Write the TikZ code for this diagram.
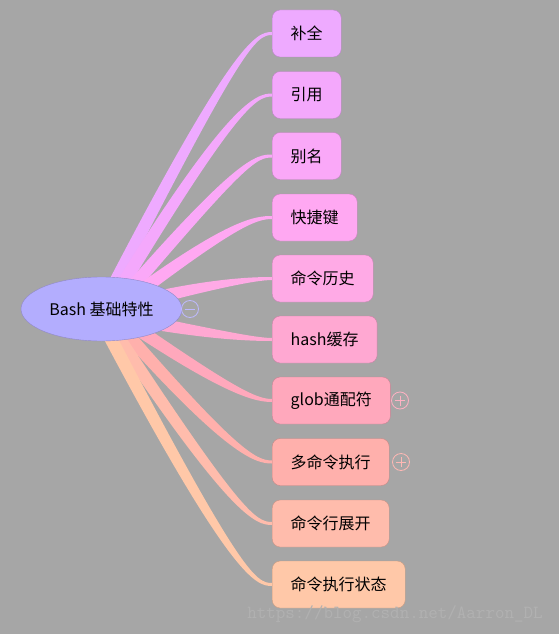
\documentclass[tikz,border=0pt]{standalone}
\usepackage{fontspec}
\setmainfont{Noto Sans CJK SC}
\usetikzlibrary{shapes.geometric, positioning, calc, backgrounds}

\definecolor{bg}{HTML}{A6A6A6}
\definecolor{rootfill}{HTML}{B3ADFE}
\definecolor{rootline}{HTML}{9088C8}
\definecolor{c1}{HTML}{EEAAFF}
\definecolor{c2}{HTML}{F4A8FC}
\definecolor{c3}{HTML}{FAA8F8}
\definecolor{c4}{HTML}{FFA8F2}
\definecolor{c5}{HTML}{FFAAE6}
\definecolor{c6}{HTML}{FFA8D2}
\definecolor{c7}{HTML}{FFA8BC}
\definecolor{c8}{HTML}{FFB0AC}
\definecolor{c9}{HTML}{FFBCAC}
\definecolor{c10}{HTML}{FFC8A8}

% tapered branch: start offset from root, knee, target node, colour
\newcommand{\branch}[4]{%
  \coordinate (s) at ($(root)+#1$);
  \coordinate (k) at #2;
  \coordinate (e) at (#3.west);
  \coordinate (c) at ($(e)+(-16,0)$);
  \fill[#4] ($(s)!6.5pt!90:(k)$) .. controls ($(k)!5.5pt!-90:(s)$) and ($(c)+(0,-1.5)$) .. ($(e)+(0,-1.5)$)
    -- ($(e)+(0,1.5)$) .. controls ($(c)+(0,1.5)$) and ($(k)!5.5pt!90:(s)$) .. ($(s)!6.5pt!-90:(k)$) -- cycle;
}

\begin{document}
\begin{tikzpicture}[
    x=1pt, y=-1pt,
    leaf/.style={draw=#1!78!black, fill=#1, rounded corners=8pt, anchor=west,
      minimum height=47pt, inner xsep=18.5pt, font=\fontsize{16pt}{19pt}\selectfont},
    fold/.style={draw=#1, circle, minimum size=17pt, inner sep=0pt, line width=0.8pt}
]
    \useasboundingbox (0,0) rectangle (559,634);
    \begin{scope}[on background layer]
        \fill[bg] (0,0) rectangle (559,634);
    \end{scope}

    % Root
    \node[ellipse, draw=rootline, fill=rootfill, minimum width=161pt, minimum height=64pt,
      inner sep=0pt, font=\fontsize{16pt}{19pt}\selectfont] (root) at (101.5,309) {Bash 基础特性};
    \node[fold=rootfill!85!white] (rootfold) at (190,309) {};
    \draw[rootfill!85!white, line width=0.8pt] ($(rootfold.center)+(-5,0)$) -- ($(rootfold.center)+(5,0)$);

    % Leaves
    \node[leaf=c1] (complete) at (272,33.5) {补全};
    \node[leaf=c2] (quote) at (272,95) {引用};
    \node[leaf=c3] (alias) at (272,156) {别名};
    \node[leaf=c4] (hotkey) at (272,217.5) {快捷键};
    \node[leaf=c5] (history) at (272,278.5) {命令历史};
    \node[leaf=c6] (hashcache) at (272,339.5) {hash缓存};
    \node[leaf=c7] (glob) at (272,400.5) {glob通配符};
    \node[leaf=c8] (multi) at (272,462) {多命令执行};
    \node[leaf=c9] (expand) at (272,523.5) {命令行展开};
    \node[leaf=c10] (status) at (272,584.5) {命令执行状态};

    % Folded markers
    \node[fold=c7!90!white] (globfold) at (400,400.5) {};
    \draw[c7!90!white, line width=0.8pt] ($(globfold.center)+(-5,0)$) -- ($(globfold.center)+(5,0)$)
      ($(globfold.center)+(0,-5)$) -- ($(globfold.center)+(0,5)$);
    \node[fold=c8!90!white] (multifold) at (401,462) {};
    \draw[c8!90!white, line width=0.8pt] ($(multifold.center)+(-5,0)$) -- ($(multifold.center)+(5,0)$)
      ($(multifold.center)+(0,-5)$) -- ($(multifold.center)+(0,5)$);

    % Branches
    \begin{scope}[on background layer]
        \branch{(0,0)}{(238,42)}{complete}{c1}
        \branch{(6,0)}{(232,104)}{quote}{c2}
        \branch{(12,0)}{(241,160)}{alias}{c3}
        \branch{(20,-4)}{(232,222)}{hotkey}{c4}
        \branch{(40,-8)}{(215,283)}{history}{c5}
        \branch{(40,12)}{(215,335)}{hashcache}{c6}
        \branch{(24,12)}{(230,392)}{glob}{c7}
        \branch{(14,12)}{(232,454)}{multi}{c8}
        \branch{(6,12)}{(236,516)}{expand}{c9}
        \branch{(-2,8)}{(236,578)}{status}{c10}
    \end{scope}

    % Watermark
    \node[font=\ttfamily\fontsize{18.5pt}{20pt}\selectfont, text=bg!88!white] (mark) at (395,614)
      {https://blog.csdn.net/Aarron\_DL};
\end{tikzpicture}
\end{document}
